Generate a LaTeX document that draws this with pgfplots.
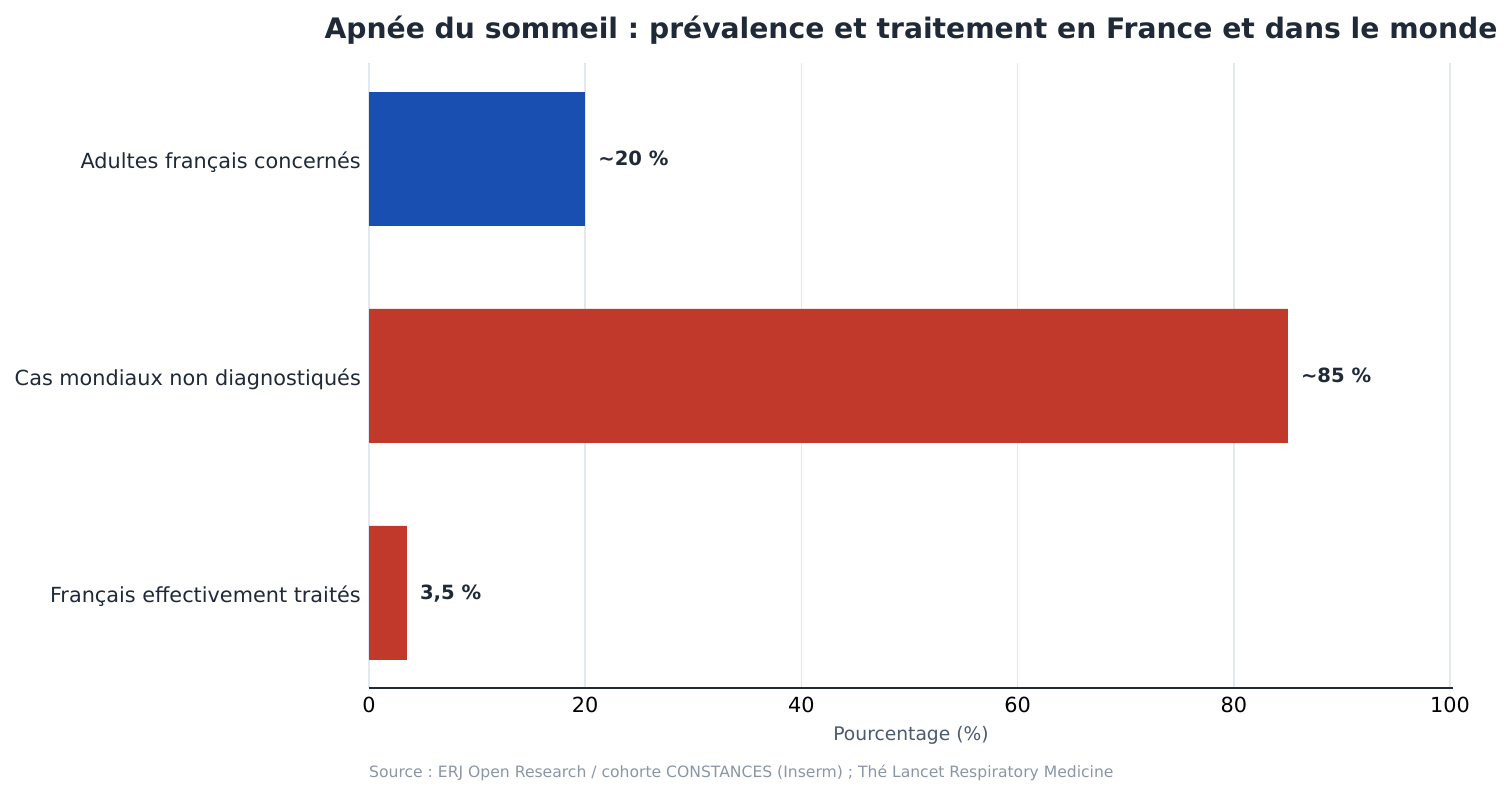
\documentclass[border=0pt]{standalone}
\usepackage{pgfplots}
\pgfplotsset{compat=1.18}
\usepackage{fontspec}
\setmainfont{DejaVu Sans}
\frenchspacing
\definecolor{inkdark}{HTML}{1F2937}
\definecolor{slatelab}{HTML}{4B5A6E}
\definecolor{slatesrc}{HTML}{8A96A6}
\definecolor{gridcol}{HTML}{E3E8EE}
\definecolor{barblue}{HTML}{1A4FB2}
\definecolor{barred}{HTML}{C0392B}
\begin{document}
\begin{tikzpicture}
\path[use as bounding box] (0,0) rectangle (1511pt,795pt);
\begin{axis}[
  at={(369pt,107pt)}, anchor=south west,
  scale only axis, width=1084pt, height=625pt,
  xbar, bar shift=0pt, bar width=134pt,
  xmin=0, xmax=100.28, ymin=-0.442, ymax=2.438, y dir=reverse,
  xtick={0,20,...,100}, ytick={0,1,2},
  yticklabels={Adultes français concernés, Cas mondiaux non diagnostiqués, Français effectivement traités},
  /pgf/number format/assume math mode=true,
  major tick length=0pt,
  xmajorgrids=true,
  grid style={draw=gridcol, line width=1.5pt},
  axis x line*=bottom, axis y line*=left,
  x axis line style={draw=inkdark, line width=1.5pt},
  y axis line style={draw=none},
  tick label style={font=\fontsize{20.8}{25}\selectfont, inner sep=0pt},
  xticklabel style={anchor=north, text=black, yshift=-9pt},
  yticklabel style={anchor=base east, text=inkdark, xshift=-8pt, yshift=-10pt},
  title={Apnée du sommeil : prévalence et traitement en France et dans le monde},
  title style={at={(axis description cs:0.5,1)}, anchor=base, yshift=19pt,
    font=\fontsize{28.2}{34}\selectfont\bfseries, text=inkdark, inner sep=0pt},
  xlabel={Pourcentage (\%)},
  xlabel style={at={(axis description cs:0.5,0)}, anchor=base, yshift=-52pt,
    font=\fontsize{18.7}{22}\selectfont, text=slatelab, inner sep=0pt},
  point meta=explicit symbolic,
  nodes near coords,
  every node near coord/.append style={anchor=base west, xshift=13pt, yshift=-6.5pt,
    inner sep=0pt, font=\fontsize{19.6}{23}\selectfont\bfseries, text=inkdark},
]
\addplot[fill=barblue, draw=none] coordinates {(20,0) [\textasciitilde20 \%]};
\addplot[fill=barred, draw=none] coordinates {(85,1) [\textasciitilde85 \%] (3.5,2) [3,5 \%]};
\end{axis}
\node[anchor=base west, inner sep=0pt, font=\fontsize{15.6}{18}\selectfont, text=slatesrc]
  at (369pt,18pt) {Source : ERJ Open Research / cohorte CONSTANCES (Inserm) ; Thé Lancet Respiratory Medicine};
\end{tikzpicture}
\end{document}
